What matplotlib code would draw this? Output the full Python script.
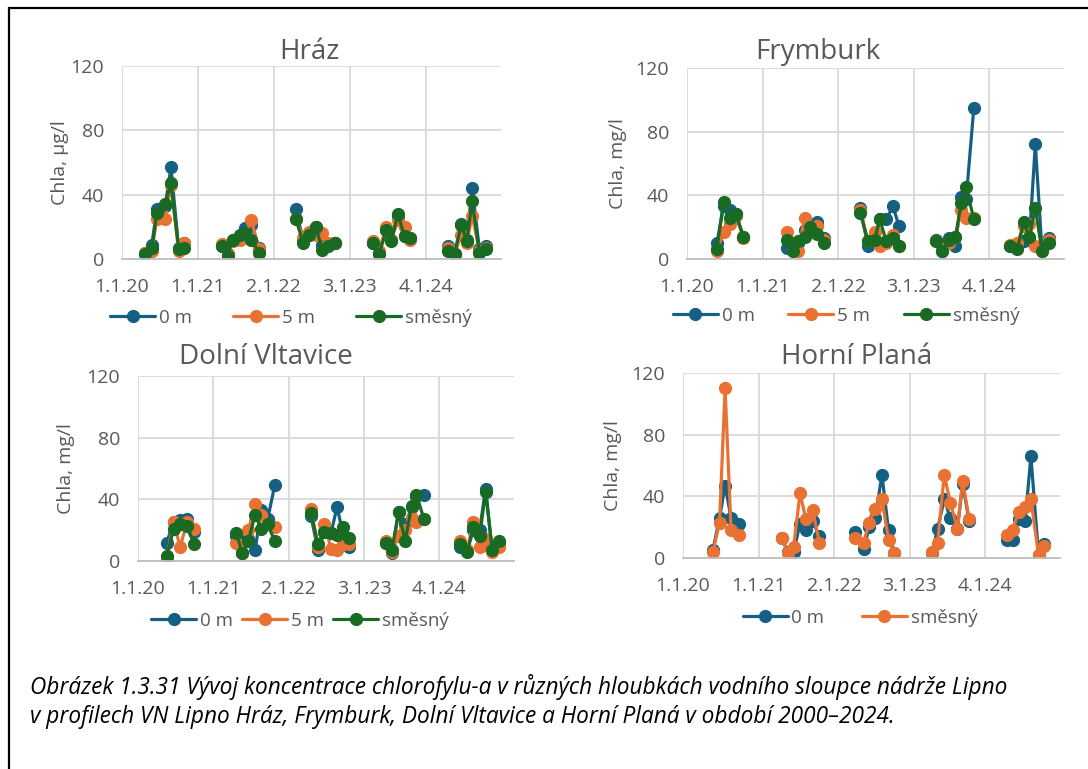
import numpy as np
import pandas as pd
import matplotlib
matplotlib.use('Agg')
import matplotlib.pyplot as plt
import matplotlib.dates as mdates
from matplotlib.patches import Rectangle

# Hráz
hraz_dates = ['2020-04-22', '2020-05-24', '2020-06-17', '2020-07-27', '2020-08-24', '2020-09-30', '2020-10-27',
              '2021-04-25', '2021-05-24', '2021-06-17', '2021-07-22', '2021-08-15', '2021-09-16', '2021-10-23',
              '2022-04-18', '2022-05-23', '2022-06-21', '2022-07-23', '2022-08-24', '2022-09-20', '2022-10-22',
              '2023-04-25', '2023-05-24', '2023-06-28', '2023-07-22', '2023-08-23', '2023-09-24', '2023-10-21',
              '2024-04-19', '2024-05-22', '2024-06-23', '2024-07-20', '2024-08-15', '2024-09-19', '2024-10-21']
hraz_0m = [4, 9, 31, 33, 57, 7, 10, 8, 3, 12, 14, 19, 21, 7, 31, 12, 15, 20, 9, 9, 10,
           10, 4, 18, 12, 27, 14, 13, 8, 3, 22, 12, 44, 6, 8]
hraz_5m = [4, 5, 25, 25, 46, 5, 10, 9.5, 3, 11, 12, 14, 24, 6, 25, 13, 17, 15, 16, 10, 10,
           11, 5, 20, 12, 24, 20, 12, 7, 3, 15, 10, 27, 5, 7]
hraz_mix = [3, 7, 28.5, 34, 47, 6.5, 7, 8, 2, 12, 15, 16, 12, 4, 25, 10, 15, 20, 5.5, 8, 10,
            10, 3, 18, 11, 28, 14, 13, 5, 3, 21, 11, 36, 4, 6]

# Frymburk
fry_dates = ['2020-05-25', '2020-06-26', '2020-07-28', '2020-08-26', '2020-09-30',
             '2021-04-28', '2021-05-27', '2021-06-23', '2021-07-25', '2021-08-18', '2021-09-20', '2021-10-27',
             '2022-04-20', '2022-05-27', '2022-06-29', '2022-07-23', '2022-08-24', '2022-09-25', '2022-10-24',
             '2023-04-23', '2023-05-22', '2023-06-23', '2023-07-25', '2023-08-22', '2023-09-15', '2023-10-22',
             '2024-04-16', '2024-05-19', '2024-06-20', '2024-07-17', '2024-08-15', '2024-09-16', '2024-10-19']
fry_0m = [10, 33, 31, 28, 14, 7, 6, 10, 18, 21, 23, 13, 32, 8, 11, 25, 25, 33, 21,
          12, 5, 13, 8, 39, 38, 95, 8, 7, 11, 12, 72, 6, 13]
fry_5m = [5, 17, 22, 27, 13, 17, 5, 5, 26, 18, 21, 12, 31, 11, 17, 8, 10, 15, 8,
          11, 5, 10, 14, 31, 26, 26, 9, 10, 21, 22, 8, 5, 12]
fry_mix = [6, 36, 26, 28, 14, 12, 5, 11, 14, 20, 16, 10, 29, 11, 12, 25, 11, 13, 8,
           11, 5, 12, 14, 35, 45, 25, 8, 6, 23, 14, 32, 5, 10]

# Dolní Vltavice
dol_dates = ['2020-05-20', '2020-06-22', '2020-07-24', '2020-08-25', '2020-09-30',
             '2021-04-23', '2021-05-22', '2021-06-20', '2021-07-23', '2021-08-21', '2021-09-22', '2021-10-26',
             '2022-04-21', '2022-05-24', '2022-06-25', '2022-07-27', '2022-08-25', '2022-09-25', '2022-10-24',
             '2023-04-20', '2023-05-19', '2023-06-20', '2023-07-22', '2023-08-23', '2023-09-15', '2023-10-22',
             '2024-04-14', '2024-05-19', '2024-06-17', '2024-07-18', '2024-08-16', '2024-09-17', '2024-10-20']
dol_0m = [12, 25.5, 26.6, 27, 19, 16, 5, 14, 7, 33, 27, 49, 29, 7, 19, 18, 35, 17, 9,
          12, 5, 32, 24, 35, 42, 43, 9, 7, 20, 20, 47, 7, 12]
dol_5m = [2, 25.5, 9, 25, 21, 12, 5, 20, 37, 30, 24, 22, 34, 9, 24, 8, 7, 11, 11,
          13, 6, 16, 20, 28, 25.5, 27, 13, 7, 25.5, 9, 14, 6, 9]
dol_mix = [3, 21, 24, 23, 11, 18, 5, 13, 30, 21, 24, 13, 31, 11, 19, 18, 17, 22, 15,
           12, 7, 32, 13, 36, 43, 27, 11, 6, 22, 16, 45, 7, 13]

# Horní Planá
hp_dates = ['2020-05-25', '2020-06-26', '2020-07-23', '2020-08-21', '2020-09-30',
            '2021-04-25', '2021-05-22', '2021-06-20', '2021-07-21', '2021-08-19', '2021-09-20', '2021-10-23',
            '2022-04-15', '2022-05-25', '2022-06-22', '2022-07-21', '2022-08-22', '2022-09-23', '2022-10-21',
            '2023-04-21', '2023-05-19', '2023-06-20', '2023-07-19', '2023-08-23', '2023-09-17', '2023-10-19',
            '2024-04-17', '2024-05-16', '2024-06-14', '2024-07-16', '2024-08-13', '2024-09-19', '2024-10-16']
hp_0m = [5, 26, 47, 26, 22, 13, 4, 4, 22, 18, 24, 14, 17, 6, 20, 26, 54, 18, 3,
         3, 19, 38, 26, 19, 48, 24, 12, 12, 25, 24, 66, 2, 9]
hp_mix = [4, 23, 110, 18, 15, 13, 3, 7, 42, 25, 31, 10, 13, 10, 23, 32, 38, 12, 3,
          4, 10, 54, 36, 19, 50, 25, 15, 18, 30, 33, 38, 2, 8]

x_ticks = pd.date_range('2020-01-01', periods=5, freq='366D')
y_ticks = [0, 40, 80, 120]

BLUE = '#156082'
ORANGE = '#E97132'
GREEN = '#196B24'
GRAY = '#595959'

plt.rcParams['font.family'] = ['Open Sans', 'DejaVu Sans']

fig = plt.figure(figsize=(10.88, 7.69), dpi=100)
W, H = 1088, 769


def box(l, t, r, b):
    return [l / W, 1 - b / H, (r - l) / W, (b - t) / H]


def draw_station(rect, dates, series, title, title_xy, ylabel, ylab_x, leg_xy, colspace):
    ax = fig.add_axes(rect)
    d = pd.to_datetime(dates)
    for vals, color, label in series:
        s = pd.Series(vals, index=d)
        first = True
        # each season is its own line, gaps in winter
        for yr, grp in s.groupby(s.index.year):
            ax.plot(grp.index, grp.values, '-o', color=color, lw=2.3, ms=8.5,
                    label=label if first else None, solid_capstyle='round')
            first = False
    ax.set_xlim(pd.Timestamp('2020-01-01'), pd.Timestamp('2025-01-01'))
    ax.set_ylim(0, 120)
    ax.set_xticks(x_ticks)
    ax.set_xticklabels([f'{t.day}.{t.month}.{t:%y}' for t in x_ticks])
    ax.set_yticks(y_ticks)
    ax.tick_params(length=0, labelsize=14, colors=GRAY)
    ax.tick_params(axis='x', pad=14)
    ax.tick_params(axis='y', pad=13)
    ax.grid(True, color='#D9D9D9', lw=1.3)
    ax.set_axisbelow(True)
    for sp in ['top', 'right', 'left']:
        ax.spines[sp].set_visible(False)
    ax.spines['bottom'].set_color('#BFBFBF')
    ax.spines['bottom'].set_linewidth(1.3)
    ax.set_ylabel(ylabel, fontsize=14, color=GRAY)
    # right edge of the rotated label, in pixels
    ax.yaxis.set_label_coords((ylab_x + 9 - rect[0] * W) / (rect[2] * W), 0.5)
    fig.text(title_xy[0] / W, 1 - title_xy[1] / H, title, fontsize=20, color=GRAY,
             ha='center', va='center')
    ax.legend(loc='center', bbox_to_anchor=(leg_xy[0] / W, 1 - leg_xy[1] / H),
              bbox_transform=fig.transFigure, ncol=len(series), frameon=False,
              fontsize=13.5, labelcolor=GRAY, handlelength=2.4, handletextpad=0.2,
              columnspacing=colspace, borderpad=0)
    return ax


ax1 = draw_station(box(122, 66, 501, 259), hraz_dates,
                   [(hraz_0m, BLUE, '0 m'), (hraz_5m, ORANGE, '5 m'), (hraz_mix, GREEN, 'směsný')],
                   'Hráz', (309, 52), 'Chla, µg/l', 60, (291, 318), 2.2)

ax2 = draw_station(box(687, 68, 1064, 259), fry_dates,
                   [(fry_0m, BLUE, '0 m'), (fry_5m, ORANGE, '5 m'), (fry_mix, GREEN, 'směsný')],
                   'Frymburk', (818, 52), 'Chla, mg/l', 618, (846, 316), 1.8)

ax3 = draw_station(box(138, 376, 514, 561), dol_dates,
                   [(dol_0m, BLUE, '0 m'), (dol_5m, ORANGE, '5 m'), (dol_mix, GREEN, 'směsný')],
                   'Dolní Vltavice', (266, 357), 'Chla, mg/l', 66, (300, 621), 0.5)

ax4 = draw_station(box(683, 373, 1060, 558), hp_dates,
                   [(hp_0m, BLUE, '0 m'), (hp_mix, ORANGE, 'směsný')],
                   'Horní Planá', (857, 357), 'Chla, mg/l', 613, (860, 618), 2.0)

caption = ('Obrázek 1.3.31 Vývoj koncentrace chlorofylu-a v různých hloubkách vodního sloupce nádrže Lipno\n'
           'v profilech VN Lipno Hráz, Frymburk, Dolní Vltavice a Horní Planá v období 2000–2024.')
fig.text(30 / W, 1 - 674 / H, caption, fontsize=16.3, style='italic', color='black',
         ha='left', va='top', linespacing=1.3)

fig.add_artist(Rectangle((9 / W, -0.02), 1.05, 1 - 8 / H + 0.02, transform=fig.transFigure,
                         fill=False, edgecolor='black', lw=1.6, clip_on=False))

plt.savefig('out.png', dpi=100)
